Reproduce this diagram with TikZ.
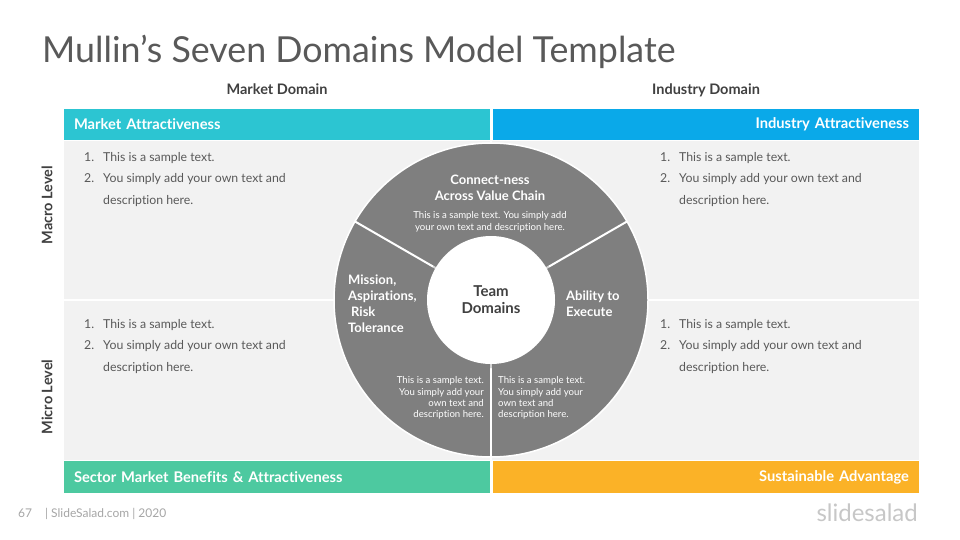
\documentclass[tikz,border=0pt]{standalone}
\usepackage{fontspec}
\setmainfont{Lato}[Ligatures={NoCommon}]
\usetikzlibrary{positioning,shadows}
\definecolor{titlegray}{HTML}{595959}
\definecolor{textgray}{HTML}{595959}
\definecolor{headgray}{HTML}{404040}
\definecolor{panelgray}{HTML}{F2F2F2}
\definecolor{wheelgray}{HTML}{7F7F7F}
\definecolor{mteal}{HTML}{2CC5D2}
\definecolor{iblue}{HTML}{0AA9E9}
\definecolor{sgreen}{HTML}{4DC9A0}
\definecolor{aorange}{HTML}{FBB227}
\newcommand{\samplelist}{%
  \begin{tabular}[t]{@{}p{19pt}@{}l@{}}
    1. & This is a sample text.\\
    2. & You simply add your own text and\\
       & description here.
  \end{tabular}}
\newcommand{\samplenote}{This is a sample text.\\You simply add your\\own text and\\description here.}
\tikzset{
  domainbar/.style={minimum height=31pt, text width=406pt, inner xsep=10pt, inner ysep=0pt,
    text=white, font=\bfseries\fontsize{14.7}{16}\selectfont},
  domainhead/.style={anchor=base, inner sep=0pt, text=headgray, font=\bfseries\fontsize{14.5}{16}\selectfont},
  levellabel/.style={rotate=90, text=headgray, font=\bfseries\fontsize{14.5}{16}\selectfont},
  itemlist/.style={anchor=base west, inner sep=0pt, text=textgray, font=\fontsize{12.3}{21.7}\selectfont},
  sectorname/.style={text=white, inner sep=0pt, font=\bfseries\fontsize{13}{16}\selectfont},
  sectornote/.style={text=white, inner sep=0pt, font=\fontsize{9.6}{11.3}\selectfont},
}

\begin{document}
\begin{tikzpicture}[x=1pt, y=-1pt]
  \useasboundingbox[fill=white] (0,0) rectangle (960,540);
  \node[anchor=base west, inner sep=0pt, text=titlegray, font=\fontsize{35.8}{40}\selectfont] (title) at (42,63) {Mullin's Seven Domains Model Template};
  % quadrants
  \fill[panelgray] (64,141) rectangle (919,460);
  \draw[white, line width=1.5pt] (64,300) -- (919,300);
  \draw[white, line width=2pt] (491,141) -- (491,460);
  % domain bars
  \node[domainbar, fill=mteal, align=left] (ma) at (277,124.5) {Market Attractiveness};
  \node[domainbar, fill=iblue, align=right] (ia) at (706,124.5) {Industry Attractiveness};
  \node[domainbar, fill=sgreen, align=left, minimum height=32pt] (sm) at (277,477) {Sector Market Benefits \& Attractiveness};
  \node[domainbar, fill=aorange, align=right, minimum height=32pt] (sa) at (706,477) {Sustainable Advantage};
  \node[domainhead] (md) at (277,95) {Market Domain};
  \node[domainhead] (id) at (706,95) {Industry Domain};
  \node[levellabel] (macro) at (47,205) {Macro Level};
  \node[levellabel] (micro) at (47,397) {Micro Level};
  % lists
  \node[itemlist] (l1) at (84,161) {\samplelist};
  \node[itemlist] (l2) at (84,328) {\samplelist};
  \node[itemlist] (l3) at (660,161) {\samplelist};
  \node[itemlist] (l4) at (660,328) {\samplelist};
  % wheel
  \node[circle, fill=wheelgray, draw=white, line width=1.5pt, minimum size=314pt, inner sep=0pt] (wheel) at (491,300) {};
  \foreach \a in {30,150,270}
    \draw[white, line width=2pt] (wheel.center) -- (wheel.\a);
  \node[circle, fill=white, minimum size=128pt, inner sep=0pt, align=center, text=headgray,
    font=\bfseries\fontsize{15}{17}\selectfont,
    drop shadow={shadow xshift=0pt, shadow yshift=-1pt, shadow scale=1.05, opacity=0.35}] (hub) at (491,300) {Team\\Domains};
  \node[sectorname, align=center] (cn) at (490,187.5) {Connect-ness\\Across Value Chain};
  \node[sectornote, align=center, below=11pt of cn] (cnt) {This is a sample text. You simply add\\your own text and description here.};
  \node[sectorname, align=left, anchor=west] (mar) at (348,304) {Mission,\\Aspirations,\\\hspace*{3pt}Risk\\Tolerance};
  \node[sectorname, align=left, anchor=west] (ae) at (566,304) {Ability to\\Execute};
  \node[sectornote, align=right, anchor=east] (bl) at (484,398) {\samplenote};
  \node[sectornote, align=left, anchor=west] (br) at (498,398) {\samplenote};
  % footer
  \node[anchor=base west, inner sep=0pt, text=black!35, font=\fontsize{12}{14}\selectfont] (page) at (18,517) {67\hspace{13pt}| SlideSalad.com | 2020};
  \node[anchor=base east, inner sep=0pt, text=black!22, font=\fontsize{24}{26}\selectfont] (logo) at (918,521) {slidesalad};
\end{tikzpicture}
\end{document}
